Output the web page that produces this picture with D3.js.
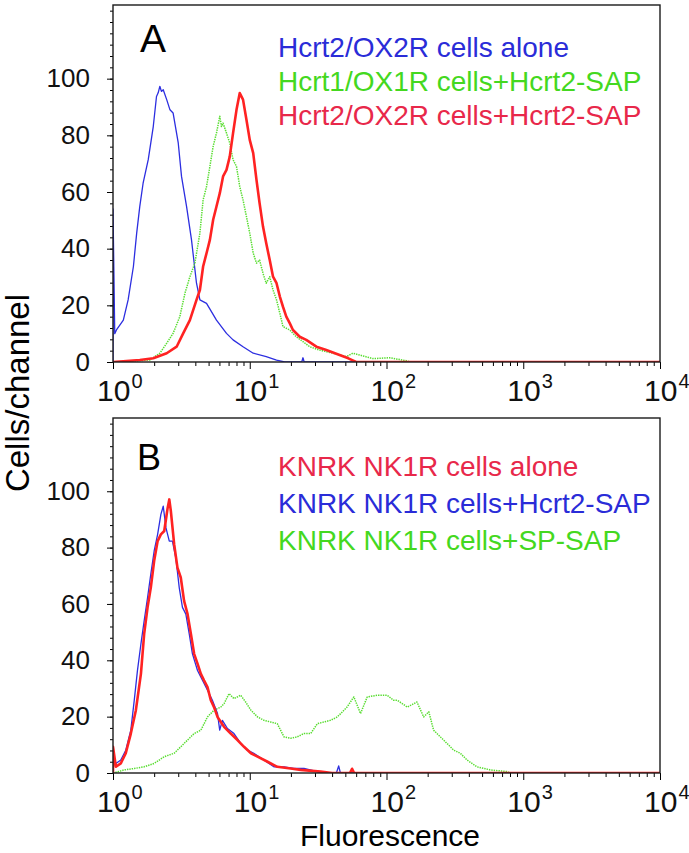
<!DOCTYPE html>
<html>
<head>
<meta charset="utf-8">
<script src="https://cdnjs.cloudflare.com/ajax/libs/d3/7.8.5/d3.min.js"></script>
<style>
  body { margin: 0; background: #fff; }
  svg text { font-family: "Liberation Sans", Arial, sans-serif; }
</style>
</head>
<body>
<div id="chart"></div>
<script>
// tick values
const xTickValues = [1, 10, 100, 1000, 10000];
const xTickExponents = ['0', '1', '2', '3', '4'];
const yTickValues = [0, 20, 40, 60, 80, 100];

// panel A legend
const legendA = ['Hcrt2/OX2R cells alone', 'Hcrt1/OX1R cells+Hcrt2-SAP', 'Hcrt2/OX2R cells+Hcrt2-SAP'];
// panel B legend
const legendB = ['KNRK NK1R cells alone', 'KNRK NK1R cells+Hcrt2-SAP', 'KNRK NK1R cells+SP-SAP'];

// [fluorescence, cells/channel]
const hcrt2Alone = [[1.0, 0], [1.0, 54], [1.03, 10], [1.06, 11.3], [1.19, 14.8], [1.29, 21.9], [1.41, 33.7],
  [1.49, 45.5], [1.57, 54.9], [1.66, 63.1], [1.81, 71.4], [1.97, 83.1], [2.08, 93.7], [2.14, 95], [2.2, 97.3],
  [2.26, 95.5], [2.33, 96.1], [2.47, 92.6], [2.61, 89], [2.75, 87.9], [3.0, 77.3], [3.17, 65.5], [3.45, 54.9],
  [3.75, 43.1], [4.08, 27.8], [4.32, 21.9], [4.83, 20.7], [5.71, 14.8], [6.76, 10.1], [7.55, 7.8], [8.93, 5.4],
  [10.6, 3.1], [13.2, 1.9], [15.7, 0.7], [18, 0], [24, 0], [24.5, 1.5], [25, 0], [10000, 0]];

const hcrt1PlusSap = [[1.0, 0], [1.86, 0.7], [2.2, 3.1], [2.47, 6.6], [2.75, 10.1], [3.08, 16.0], [3.36, 24.3],
  [3.65, 30.1], [3.97, 34.9], [4.32, 45.5], [4.56, 57.2], [4.83, 61.9], [5.11, 69], [5.4, 76.1], [5.71, 80.8],
  [6.04, 86.7], [6.21, 83.1], [6.38, 84.3], [6.76, 80.8], [7.14, 77.3], [7.55, 71.4], [8.0, 69], [8.45, 61.9],
  [8.93, 57.2], [9.46, 51.3], [10, 45.5], [10.6, 38.4], [11.2, 34.9], [11.8, 36], [12.5, 31.3], [13.2, 27.8],
  [14.0, 30.1], [14.8, 25.4], [15.7, 21.9], [16.6, 17.2], [17.5, 12.5], [19.6, 11.3], [21.9, 8.9], [24.5, 7.2],
  [27.4, 5.4], [32.4, 4.2], [40.6, 3.1], [50.8, 1.9], [56.8, 3.1], [79.4, 1.2], [105, 1.5], [138, 0.5],
  [150, 0], [10000, 0]];

const hcrt2PlusSap = [[1.0, 0], [1.57, 0.7], [1.97, 1.3], [2.47, 3.1], [2.92, 5.4], [3.26, 10.1], [3.65, 14.8],
  [4.08, 21.9], [4.32, 25.4], [4.56, 33.7], [4.83, 38.4], [5.11, 43.1], [5.4, 50.2], [5.71, 54.9], [6.04, 59.6],
  [6.38, 65.5], [6.76, 67.8], [7.14, 72.5], [7.55, 80.8], [8.0, 89], [8.45, 94.9], [8.93, 92.6], [9.46, 85.5],
  [10, 78.4], [10.6, 73.7], [11.2, 64.3], [11.8, 56.1], [12.5, 47.8], [13.2, 41.9], [14.0, 36], [14.8, 30.1],
  [15.7, 27.8], [16.6, 23.1], [17.5, 19.5], [18.5, 16.0], [19.6, 13.7], [20.7, 11.3], [23.2, 8.9], [25.9, 7.8],
  [30.7, 5.4], [36.3, 4.2], [45.4, 2.5], [52.6, 1.3], [60, 0], [10000, 0]];

const nk1rAlone = [[1.0, 0], [1.0, 9.3], [1.05, 2.2], [1.14, 3.4], [1.24, 7], [1.35, 14], [1.47, 22.3], [1.6, 35.2],
  [1.69, 49.4], [1.79, 58.8], [1.89, 65.8], [2.0, 75.3], [2.12, 82.3], [2.24, 84.7], [2.37, 85.9], [2.51, 94.1],
  [2.58, 97.1], [2.65, 92.9], [2.8, 81.2], [2.96, 72.9], [3.13, 69.4], [3.31, 61.1], [3.51, 56.4], [3.71, 49.4],
  [3.92, 42.3], [4.15, 38.8], [4.39, 35.2], [4.63, 32.9], [4.91, 30.5], [5.19, 25.8], [5.48, 23.4], [5.81, 19.9],
  [6.49, 16.4], [7.26, 14], [8.13, 11.7], [9.08, 9.3], [10.2, 7], [11.4, 5.8], [13.5, 4], [15.9, 2.2],
  [19.9, 1.6], [23.6, 1.1], [33.0, 0.5], [40, 0], [54, 0], [56, 1.5], [58, 0], [10000, 0]];

const nk1rPlusHcrt2Sap = [[1.0, 0], [1.0, 7], [1.05, 3.4], [1.14, 4.6], [1.24, 8.1], [1.35, 15.2], [1.43, 25.8],
  [1.51, 36.4], [1.6, 45.8], [1.69, 54], [1.79, 62.3], [1.89, 70.6], [2.0, 78.8], [2.12, 84.7], [2.24, 91.8],
  [2.33, 94.7], [2.44, 87], [2.58, 82.3], [2.72, 82.3], [2.88, 76.4], [3.05, 65.8], [3.22, 58.8], [3.41, 56.4],
  [3.61, 49.4], [3.81, 42.3], [4.15, 36.4], [4.51, 32.9], [4.91, 29.4], [5.33, 25.8], [5.81, 21.1], [6.03, 15.2],
  [6.31, 18.7], [6.87, 15.8], [7.67, 14], [8.59, 10.5], [9.62, 8.1], [10.7, 7], [12.7, 4.6], [15.0, 2.2],
  [17.8, 2.2], [21.0, 1.6], [24.9, 1.6], [31.2, 0.5], [35, 0], [43, 0], [44.7, 2.5], [46, 0], [10000, 0]];

const nk1rPlusSpSap = [[1.0, 0], [1.21, 1.1], [1.43, 1.6], [1.69, 2.2], [2.0, 3.4], [2.37, 5.8], [2.8, 7],
  [3.13, 9.3], [3.51, 11.7], [3.92, 14], [4.39, 15.2], [4.91, 19.9], [5.48, 22.3], [6.14, 23.4], [6.49, 24.6],
  [7.06, 28.2], [7.67, 26.4], [8.59, 27.6], [9.33, 25.2], [10.2, 22.3], [11.4, 19.9], [12.7, 18.7], [14.2, 18.1],
  [15.9, 17.5], [17.8, 12.8], [19.9, 12.3], [22.2, 12.8], [24.9, 14], [27.9, 14], [31.2, 17.5], [34.8, 18.1],
  [39.0, 18.7], [43.7, 19.9], [51.5, 23.4], [57.7, 27], [64.6, 21.1], [72.3, 27], [85.5, 27.6], [101, 27.6],
  [113, 25.8], [120, 25.8], [142, 23.4], [167, 25.2], [187, 19.9], [204, 21.7], [221, 15.2], [248, 12.8],
  [277, 10.5], [310, 8.1], [347, 7], [388, 4.6], [459, 2.2], [574, 1.1], [760, 0.5], [800, 0], [10000, 0]];

const blue = '#2c2ee0', green = '#58dd30', red = '#ff2222';
const styles = {
  blue: {stroke: blue, width: 1.3, dash: null, text: '#2a2cd8'},
  green: {stroke: green, width: 1.5, dash: '1.4 1', text: '#44d820'},
  red: {stroke: red, width: 2.6, dash: null, text: '#e8284a'}
};

const panels = [
  {letter: 'A', top: 5, bottom: 362, letterX: 140, letterY: 52, letterSize: 39, legendY: 57, legendStep: 34,
    legend: legendA, legendColors: ['blue', 'green', 'red'],
    series: [[hcrt2Alone, 'blue'], [hcrt1PlusSap, 'green'], [hcrt2PlusSap, 'red']]},
  {letter: 'B', top: 418, bottom: 773, letterX: 137, letterY: 470, letterSize: 36, legendY: 476, legendStep: 37,
    legend: legendB, legendColors: ['red', 'blue', 'green'],
    series: [[nk1rPlusSpSap, 'green'], [nk1rPlusHcrt2Sap, 'blue'], [nk1rAlone, 'red']]}
];

const width = 689, height = 853;
const plotLeft = 113, plotRight = 660;

const svg = d3.select('#chart').append('svg')
  .attr('width', width)
  .attr('height', height)
  .style('background', '#fff');

const x = d3.scaleLog().domain([1, 10000]).range([plotLeft, plotRight]);

// minor log ticks 2..9 per decade
const xMinor = [];
[1, 10, 100, 1000].forEach(function (dec) {
  for (let k = 2; k <= 9; k++) xMinor.push(k * dec);
});

panels.forEach(function (p, i) {
  const y = d3.scaleLinear().domain([0, 126]).range([p.bottom, p.top]);
  const g = svg.append('g');

  // clip the histograms to the frame
  g.append('clipPath').attr('id', 'clip' + i)
    .append('rect')
    .attr('x', plotLeft).attr('y', p.top)
    .attr('width', plotRight - plotLeft).attr('height', p.bottom - p.top);

  // y axis: minor then major
  g.append('g')
    .attr('transform', 'translate(' + plotLeft + ',0)')
    .call(d3.axisLeft(y).tickValues(d3.range(0, 126, 4)).tickSize(3).tickFormat(''))
    .call(function (a) { a.select('.domain').remove(); });

  const gy = g.append('g')
    .attr('transform', 'translate(' + plotLeft + ',0)')
    .call(d3.axisLeft(y).tickValues(yTickValues).tickSize(6).tickPadding(17));
  gy.select('.domain').remove();
  gy.selectAll('text').attr('font-size', 26).attr('fill', '#111')
    .attr('font-family', '"Liberation Sans", Arial, sans-serif');

  // x axis: minor then major
  g.append('g')
    .attr('transform', 'translate(0,' + p.bottom + ')')
    .call(d3.axisBottom(x).tickValues(xMinor).tickSize(4).tickFormat(''))
    .call(function (a) { a.select('.domain').remove(); });

  const gx = g.append('g')
    .attr('transform', 'translate(0,' + p.bottom + ')')
    .call(d3.axisBottom(x).tickValues(xTickValues).tickSize(7).tickFormat(''));
  gx.select('.domain').remove();
  gx.selectAll('.tick').each(function (d, j) {
    const t = d3.select(this).append('text')
      .attr('x', -16.5)
      .attr('y', 39)
      .attr('text-anchor', 'start')
      .attr('fill', '#111')
      .attr('font-size', 30)
      .attr('font-family', '"Liberation Sans", Arial, sans-serif');
    t.append('tspan').text('10');
    t.append('tspan').attr('font-size', 20).attr('dx', 1).attr('dy', -13).text(xTickExponents[j]);
  });

  // histograms
  const line = d3.line()
    .x(function (d) { return x(d[0]); })
    .y(function (d) { return y(d[1]); });

  p.series.forEach(function (s) {
    const st = styles[s[1]];
    g.append('path')
      .attr('d', line(s[0]))
      .attr('clip-path', 'url(#clip' + i + ')')
      .attr('fill', 'none')
      .attr('stroke', st.stroke)
      .attr('stroke-width', st.width)
      .attr('stroke-dasharray', st.dash)
      .attr('stroke-linejoin', 'round');
  });

  // frame
  g.append('rect')
    .attr('x', plotLeft).attr('y', p.top)
    .attr('width', plotRight - plotLeft).attr('height', p.bottom - p.top)
    .attr('fill', 'none')
    .attr('stroke', '#1a1a1a')
    .attr('stroke-width', 1.4);

  // panel letter
  g.append('text')
    .attr('x', p.letterX).attr('y', p.letterY)
    .attr('font-size', p.letterSize)
    .attr('fill', '#000')
    .text(p.letter);

  // legend
  p.legend.forEach(function (label, j) {
    g.append('text')
      .attr('x', 278)
      .attr('y', p.legendY + j * p.legendStep)
      .attr('font-size', 28)
      .attr('fill', styles[p.legendColors[j]].text)
      .text(label);
  });
});

// axis titles
svg.append('text')
  .attr('transform', 'translate(29,393) rotate(-90)')
  .attr('text-anchor', 'middle')
  .attr('font-size', 33)
  .attr('fill', '#000')
  .text('Cells/channel');

svg.append('text')
  .attr('x', 390).attr('y', 846)
  .attr('text-anchor', 'middle')
  .attr('font-size', 30)
  .attr('fill', '#000')
  .text('Fluorescence');
</script>
</body>
</html>
